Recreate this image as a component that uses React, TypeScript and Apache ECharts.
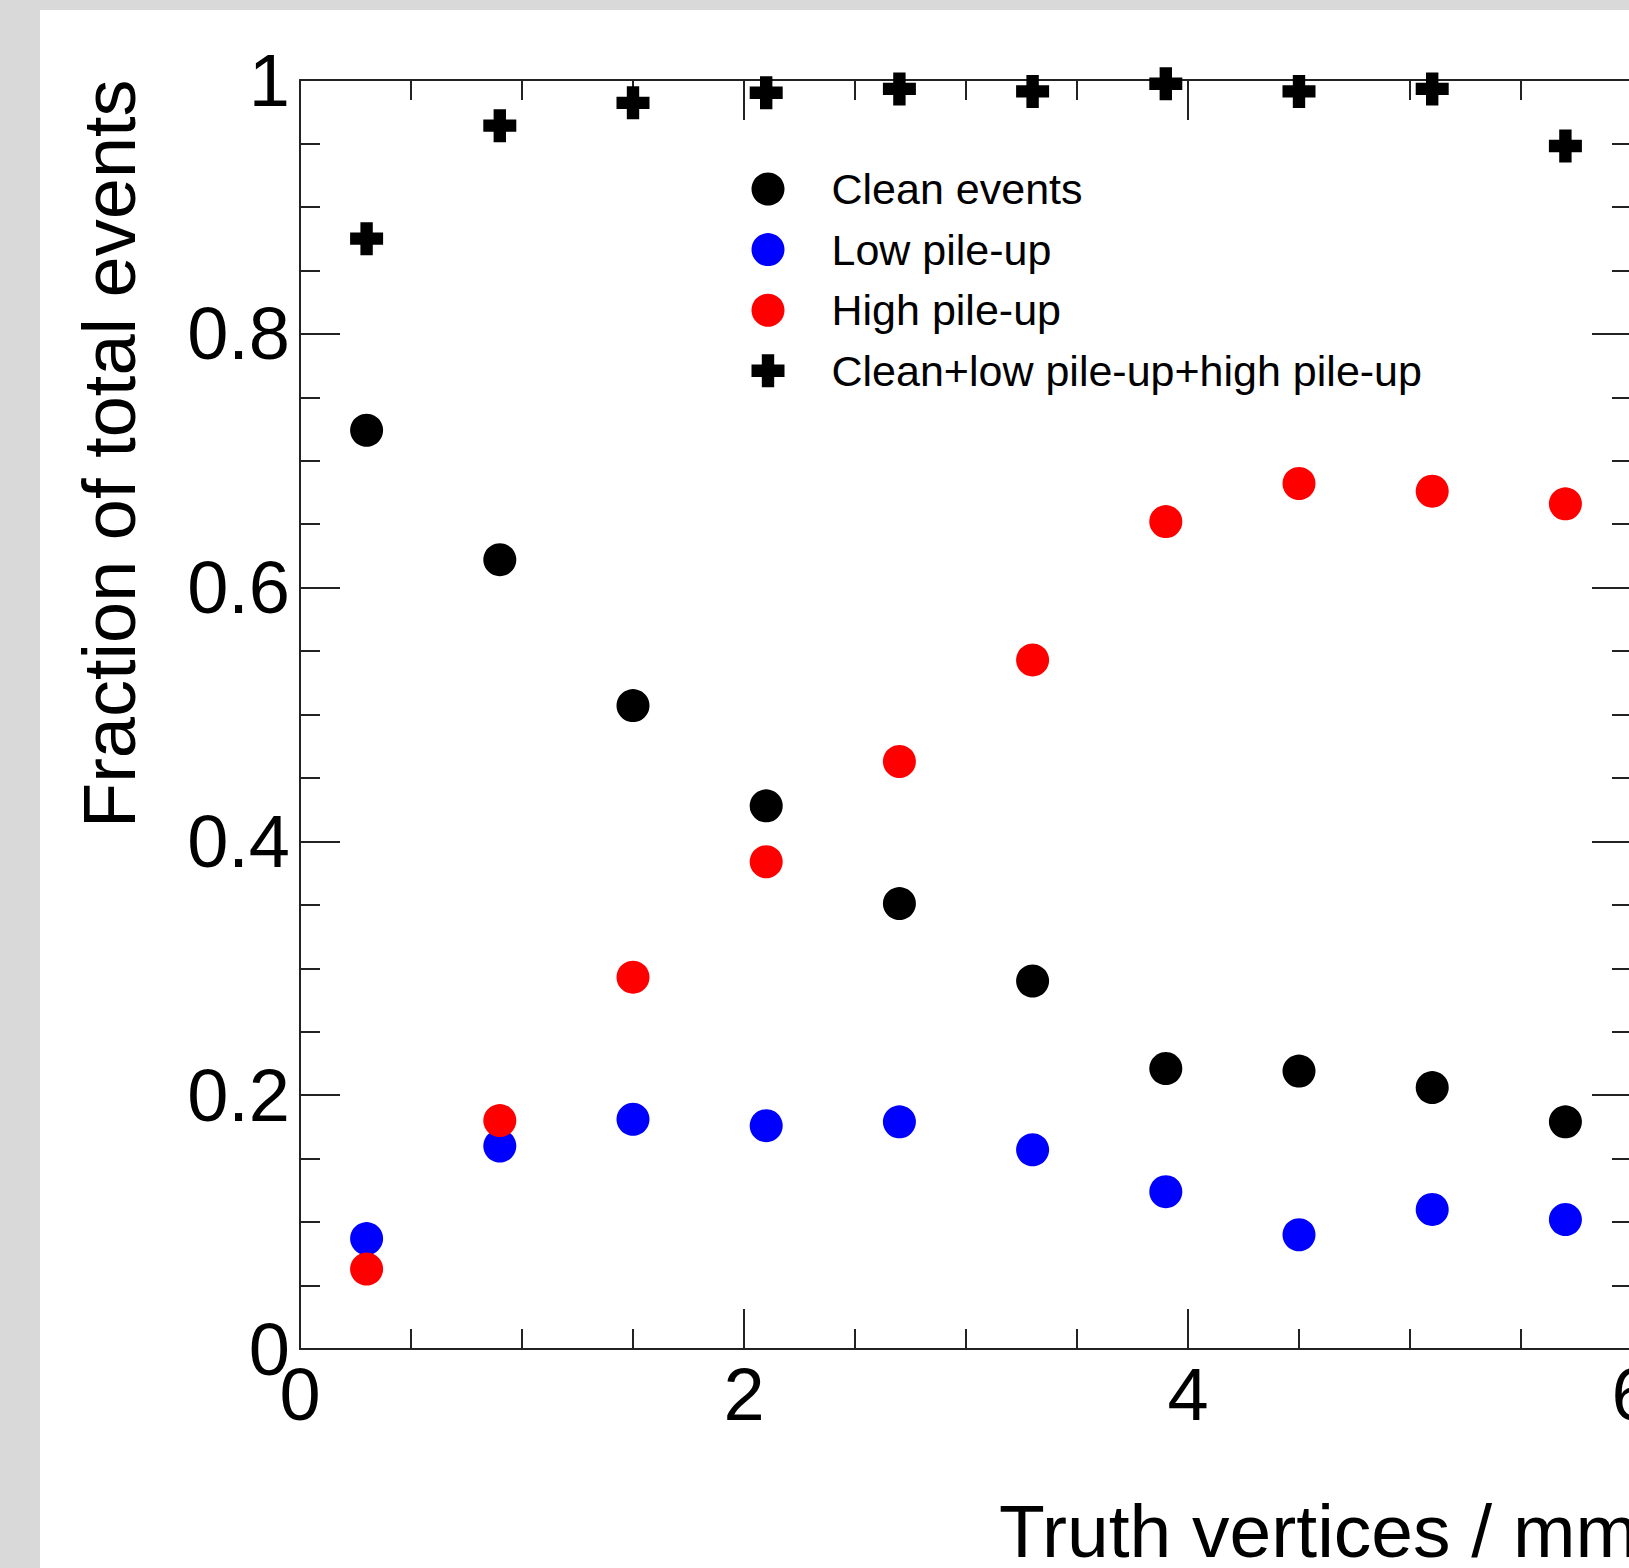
import React, { useEffect, useRef } from "react";
import * as echarts from "echarts";

// Bin centres (truth vertices / mm)
const binCenters = [0.3, 0.9, 1.5, 2.1, 2.7, 3.3, 3.9, 4.5, 5.1, 5.7];
// Fractions
const cleanEvents = [0.724, 0.622, 0.507, 0.428, 0.351, 0.29, 0.221, 0.219, 0.206, 0.179];
const lowPileUp = [0.087, 0.16, 0.181, 0.176, 0.179, 0.157, 0.124, 0.09, 0.11, 0.102];
const highPileUp = [0.063, 0.18, 0.293, 0.384, 0.463, 0.543, 0.652, 0.682, 0.676, 0.666];
const totalEvents = [0.875, 0.964, 0.982, 0.99, 0.993, 0.991, 0.997, 0.991, 0.993, 0.948];

const seriesNames = [
  "Clean events",
  "Low pile-up",
  "High pile-up",
  "Clean+low pile-up+high pile-up",
];
const seriesColors = ["#000000", "#0000ff", "#ff0000", "#000000"];

const xRange = { min: 0, max: 6, interval: 2 };
const yRange = { min: 0, max: 1, interval: 0.2 };

const xTitle = "Truth vertices / mm";
const yTitle = "Fraction of total events";

const FONT = "'Liberation Sans', Arial, Helvetica, sans-serif";
const CROSS = "path://M10,0H22V10H32V22H22V32H10V22H0V10H10Z";

export default function App() {
  const ref = useRef<HTMLDivElement>(null);

  useEffect(() => {
    if (!ref.current) return;
    const chart = echarts.init(ref.current, null, { renderer: "svg" });

    const lineStyle = { color: "#222222", width: 2 };
    const baseAxis = {
      type: "value" as const,
      axisLine: { show: true, onZero: false, lineStyle },
      axisTick: { show: true, inside: true, length: 40, lineStyle },
      minorTick: { show: true, splitNumber: 4, length: 20, lineStyle },
      splitLine: { show: false },
      minorSplitLine: { show: false },
    };
    const labelStyle = { fontSize: 74, fontFamily: FONT, color: "#000" };

    const dataFor = (vals: number[]) => binCenters.map((x, i) => [x, vals[i]]);
    const valuesList = [cleanEvents, lowPileUp, highPileUp, totalEvents];

    const option: any = {
      animation: false,
      backgroundColor: "#ffffff",
      grid: {
        left: 260,
        top: 70,
        width: 1332,
        height: 1269,
        containLabel: false,
        outerBoundsMode: "none",
      },
      xAxis: [
        {
          ...baseAxis,
          ...xRange,
          position: "bottom",
          axisLabel: { ...labelStyle, margin: 8 },
        },
        {
          ...baseAxis,
          ...xRange,
          position: "top",
          axisLabel: { show: false },
        },
      ],
      yAxis: [
        {
          ...baseAxis,
          ...yRange,
          position: "left",
          axisLabel: { ...labelStyle, margin: 10 },
        },
        {
          ...baseAxis,
          ...yRange,
          position: "right",
          axisLabel: { show: false },
        },
      ],
      legend: {
        orient: "vertical",
        left: 711.5,
        top: 157.5,
        padding: 0,
        itemWidth: 33,
        itemHeight: 33,
        itemGap: 17.6,
        selectedMode: false,
        textStyle: {
          fontSize: 43,
          fontFamily: FONT,
          color: "#000",
          padding: [0, 0, 0, 42],
        },
        data: seriesNames,
      },
      series: seriesNames.map((name, i) => ({
        name,
        type: "scatter",
        xAxisIndex: 0,
        yAxisIndex: 0,
        symbol: i === 3 ? CROSS : "circle",
        symbolSize: 33,
        itemStyle: { color: seriesColors[i], opacity: 1 },
        emphasis: { disabled: true },
        data: dataFor(valuesList[i]),
      })),
      graphic: [
        {
          type: "text",
          x: 959,
          y: 1521,
          silent: true,
          style: {
            text: xTitle,
            fontSize: 75,
            fontFamily: FONT,
            fill: "#000",
            align: "left",
            verticalAlign: "middle",
          },
        },
        {
          type: "text",
          x: 69.4,
          y: 818,
          rotation: Math.PI / 2,
          silent: true,
          style: {
            text: yTitle,
            fontSize: 74,
            fontFamily: FONT,
            fill: "#000",
            align: "left",
            verticalAlign: "middle",
          },
        },
      ],
    };

    chart.setOption(option);
    return () => chart.dispose();
  }, []);

  return (
    <div
      style={{
        position: "absolute",
        left: 0,
        top: 0,
        width: 1629,
        height: 1568,
        background: "#d9d9d9",
        overflow: "hidden",
      }}
    >
      <div
        ref={ref}
        style={{
          position: "absolute",
          left: 40,
          top: 10,
          width: 1589,
          height: 1558,
          background: "#ffffff",
          overflow: "hidden",
        }}
      />
    </div>
  );
}
